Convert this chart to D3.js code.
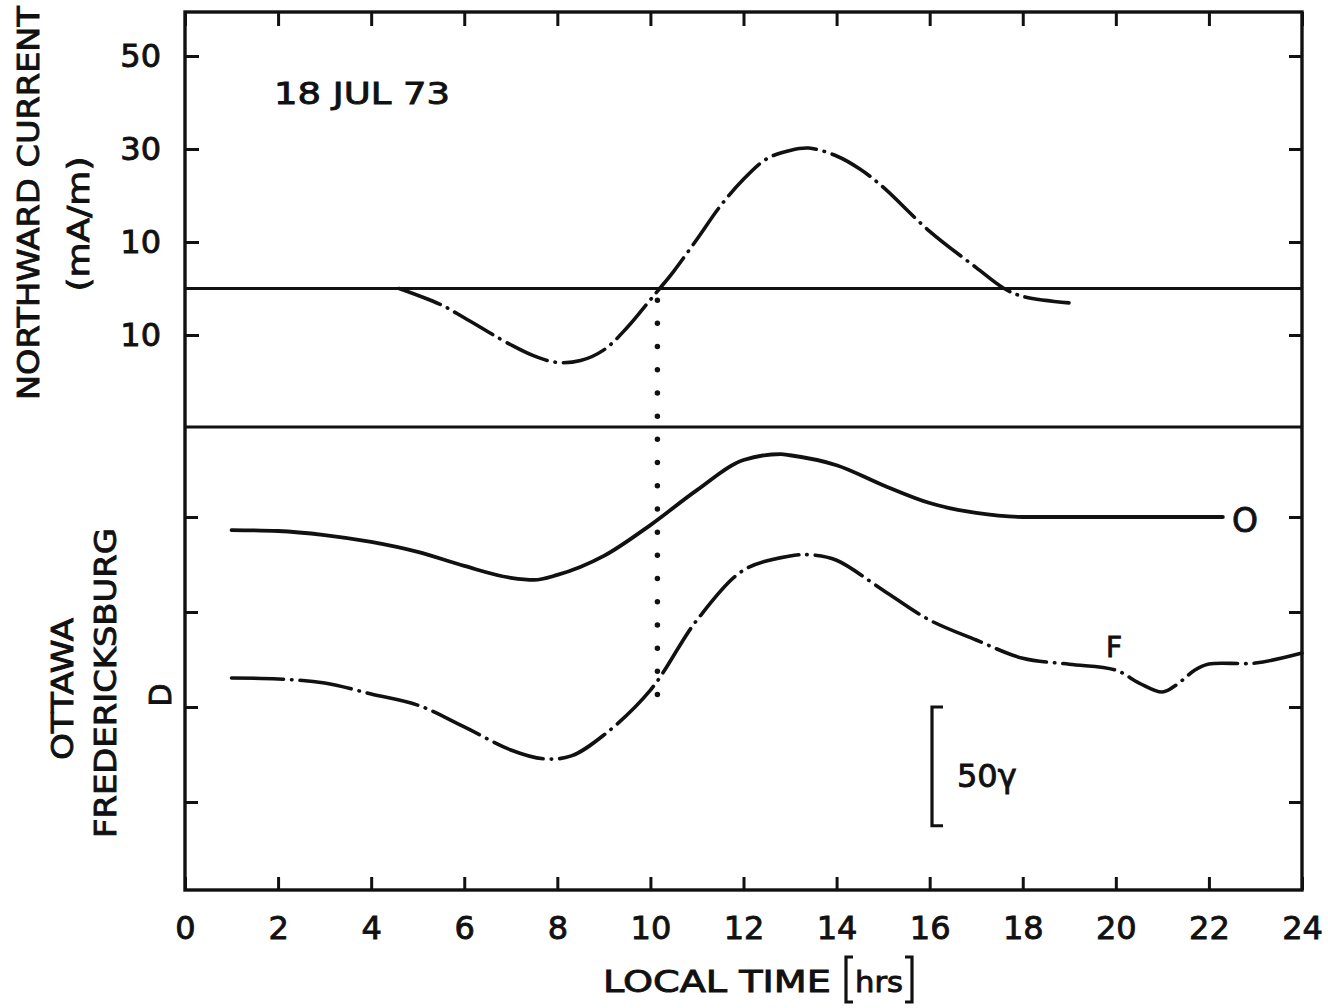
<!DOCTYPE html>
<html>
<head>
<meta charset="utf-8">
<script src="https://cdn.jsdelivr.net/npm/d3@7"></script>
<style>
body { margin: 0; background: #fff; }
text { font-family: "DejaVu Sans", sans-serif; fill: #111; stroke: #111; stroke-width: 0.9px; }
</style>
</head>
<body>
<div id="the_chart"></div>
<script>
// upper panel: northward current (mA/m)
var upHours = [4.6, 5.5, 6, 7, 7.5, 8, 8.5, 9, 9.5, 10, 10.2, 10.5, 11, 11.5, 12, 12.5, 13, 13.4, 14, 14.5, 15, 16, 17, 17.6, 18, 19.1];
var upVals = [0, -3.5, -6.3, -12.1, -14.5, -15.9, -15.5, -13.2, -8.4, -2.4, 0, 3.7, 10.6, 17.7, 23.5, 27.9, 29.7, 30.2, 28.5, 25.7, 21.8, 12.3, 4.5, 0, -1.7, -3.2];
var upTicks = [50, 30, 10, -10];

// lower panel: magnetograms (gamma), offsets from each baseline
var ottHours = [1, 2, 3, 4, 5, 6, 7, 7.5, 8, 9, 10, 11, 12, 12.8, 13, 14, 15, 16, 17, 18, 20, 22.3];
var ottDev = [-5.5, -5.9, -7.6, -10.5, -14.7, -20.6, -25.6, -26.5, -24.4, -16.4, -3.4, 11.3, 24, 26.5, 26, 21.8, 13.4, 5.9, 1.7, 0, 0, 0];
var freHours = [1, 2, 3, 4, 5, 6, 7, 7.7, 8.3, 9, 10, 11, 12, 13, 13.5, 14, 15, 16, 17, 18, 19, 20, 20.5, 21, 21.3, 21.7, 22, 23, 24];
var freDev = [12.2, 11.8, 10.1, 5.5, 0.8, -8.4, -18.1, -21.8, -20.6, -11.8, 7.1, 36.6, 57.6, 63.6, 64, 61.8, 49.2, 36.6, 28.2, 20.5, 18, 15.5, 10.1, 6.3, 9.3, 15.6, 18.1, 18.5, 22.7];
var ottBase = 80, freBase = 0;
var loTicks = [-40, 0, 40, 80];
var hourTicks = d3.range(0, 25, 2);
var dotHour = 10.15;

var w = 1328, h = 1008;
var svg = d3.select("#the_chart").append("svg")
    .attr("width", w).attr("height", h);

var padL = 185, padR = 1302, padT = 12, padB = 890, split = 427;
var ink = "#111";

var x = d3.scaleLinear().domain([0, 24]).range([padL, padR]);
var yUp = d3.scaleLinear().domain([-10, 50]).range([335, 56]);
var yLo = d3.scaleLinear().domain([-40, 80]).range([802, 517]);

function styleAxis(g) {
    g.select(".domain").remove();
    g.selectAll(".tick line").attr("stroke", ink).attr("stroke-width", 3);
    g.selectAll(".tick text").attr("font-size", 32).attr("fill", ink)
        .attr("font-family", "DejaVu Sans");
}

// axes
svg.append("g").attr("transform", "translate(0," + padB + ")")
    .call(d3.axisBottom(x).tickValues(hourTicks).tickSize(-13).tickPadding(26))
    .call(styleAxis);
svg.append("g").attr("transform", "translate(0," + padT + ")")
    .call(d3.axisTop(x).tickValues(hourTicks).tickSize(-14).tickFormat(""))
    .call(styleAxis);
svg.append("g").attr("transform", "translate(" + padL + ",0)")
    .call(d3.axisLeft(yUp).tickValues(upTicks).tickSize(-14).tickPadding(24)
        .tickFormat(function (d) { return Math.abs(d); }))
    .call(styleAxis);
svg.append("g").attr("transform", "translate(" + padR + ",0)")
    .call(d3.axisRight(yUp).tickValues(upTicks).tickSize(-13).tickFormat(""))
    .call(styleAxis);
svg.append("g").attr("transform", "translate(" + padL + ",0)")
    .call(d3.axisLeft(yLo).tickValues(loTicks).tickSize(-13).tickFormat(""))
    .call(styleAxis);
svg.append("g").attr("transform", "translate(" + padR + ",0)")
    .call(d3.axisRight(yLo).tickValues(loTicks).tickSize(-13).tickFormat(""))
    .call(styleAxis);

// frame, divider, zero line
svg.append("rect").attr("x", padL).attr("y", padT)
    .attr("width", padR - padL).attr("height", padB - padT)
    .attr("fill", "none").attr("stroke", ink).attr("stroke-width", 3.4);
svg.append("line").attr("x1", padL).attr("x2", padR)
    .attr("y1", split).attr("y2", split)
    .attr("stroke", ink).attr("stroke-width", 3.2);
svg.append("line").attr("x1", padL).attr("x2", padR)
    .attr("y1", yUp(0)).attr("y2", yUp(0))
    .attr("stroke", ink).attr("stroke-width", 2.8);

// curves
var smooth = d3.curveCatmullRom.alpha(0.5);
var upLine = d3.line()
    .x(function (d) { return x(d[0]); })
    .y(function (d) { return yUp(d[1]); })
    .curve(smooth);
var loLine = d3.line()
    .x(function (d) { return x(d[0]); })
    .y(function (d) { return yLo(d[1]); })
    .curve(smooth);

svg.append("path")
    .attr("d", upLine(d3.zip(upHours, upVals)))
    .attr("fill", "none").attr("stroke", ink).attr("stroke-width", 3.6)
    .attr("stroke-linecap", "round").attr("stroke-dasharray", "44,8,0.5,8");

svg.append("path")
    .attr("d", loLine.curve(d3.curveMonotoneX)(ottHours.map(function (t, i) { return [t, ottBase + ottDev[i]]; })))
    .attr("fill", "none").attr("stroke", ink).attr("stroke-width", 3.8)
    .attr("stroke-linecap", "round");
loLine.curve(smooth);

svg.append("path")
    .attr("d", loLine(freHours.map(function (t, i) { return [t, freBase + freDev[i]]; })))
    .attr("fill", "none").attr("stroke", ink).attr("stroke-width", 3.6)
    .attr("stroke-linecap", "round").attr("stroke-dasharray", "52,8,0.5,8");

// dotted vertical marker
svg.append("line")
    .attr("x1", x(dotHour)).attr("x2", x(dotHour))
    .attr("y1", yUp(-2.5)).attr("y2", yLo(freBase))
    .attr("stroke", ink).attr("stroke-width", 5.5)
    .attr("stroke-linecap", "round").attr("stroke-dasharray", "0,23.2");

// 50 gamma scale bar
var bx = 932;
svg.append("path")
    .attr("d", "M" + (bx + 11) + "," + yLo(0) + "H" + bx + "V" + yLo(-50) + "H" + (bx + 11))
    .attr("fill", "none").attr("stroke", ink).attr("stroke-width", 3.2);
svg.append("text").attr("x", 957).attr("y", 787)
    .attr("font-size", 32).text("50\u03B3");

// labels
svg.append("text").attr("x", 274).attr("y", 104)
    .attr("font-size", 30).attr("textLength", 176)
    .attr("lengthAdjust", "spacingAndGlyphs").text("18  JUL  73");
svg.append("text").attr("x", 1232).attr("y", 532)
    .attr("font-size", 33).text("O");
svg.append("text").attr("x", 1106).attr("y", 657)
    .attr("font-size", 28).text("F");

function vtext(cx, cy, size, str, len) {
    var t = svg.append("text")
        .attr("transform", "translate(" + cx + "," + cy + ") rotate(-90)")
        .attr("text-anchor", "middle").attr("dy", "0.36em")
        .attr("font-size", size).text(str);
    if (len) t.attr("textLength", len).attr("lengthAdjust", "spacingAndGlyphs");
}
vtext(28, 203, 31, "NORTHWARD  CURRENT", 394);
vtext(78, 224, 31, "(mA/m)", 135);
vtext(62, 689, 30, "OTTAWA", 142);
vtext(105, 683, 30, "FREDERICKSBURG", 310);
vtext(160, 695, 30, "D");

// x title
svg.append("text").attr("x", 603).attr("y", 992)
    .attr("font-size", 30).attr("textLength", 228)
    .attr("lengthAdjust", "spacingAndGlyphs").text("LOCAL  TIME");
svg.append("path")
    .attr("d", "M853,957H846V1002H853 M905,957H912V1002H905")
    .attr("fill", "none").attr("stroke", ink).attr("stroke-width", 3.2);
svg.append("text").attr("x", 879).attr("y", 992)
    .attr("text-anchor", "middle").attr("font-size", 28)
    .attr("textLength", 48).attr("lengthAdjust", "spacingAndGlyphs").text("hrs");
</script>
</body>
</html>
